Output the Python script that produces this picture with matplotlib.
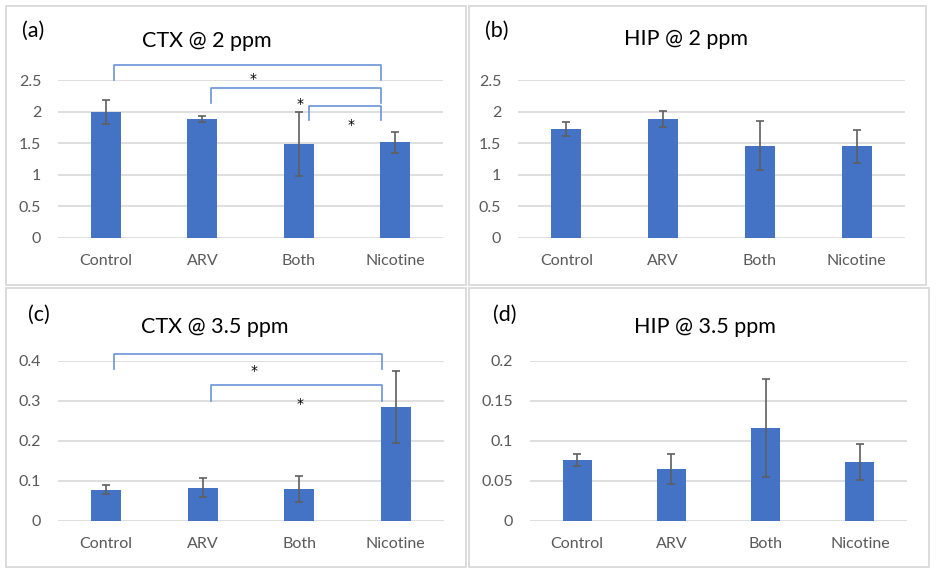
import matplotlib.pyplot as plt
from matplotlib.patches import Rectangle

plt.rcParams['font.family'] = ['Lato', 'DejaVu Sans']

categories = ["Control", "ARV", "Both", "Nicotine"]

ctx_2_mean = [2.00, 1.88, 1.49, 1.51]
ctx_2_err = [0.19, 0.045, 0.51, 0.17]
hip_2_mean = [1.72, 1.88, 1.46, 1.45]
hip_2_err = [0.11, 0.13, 0.39, 0.26]
ctx_35_mean = [0.078, 0.083, 0.080, 0.285]
ctx_35_err = [0.012, 0.024, 0.032, 0.090]
hip_35_mean = [0.076, 0.065, 0.116, 0.073]
hip_35_err = [0.007, 0.019, 0.061, 0.0225]

# significance brackets: (x_left, x_right, top, leg_bottom, star_x, star_y)
ctx_2_sig = [
    (0.08, 2.86, 2.73, 2.50, 1.53, 2.60),
    (1.09, 2.86, 2.37, 2.14, 2.01, 2.21),
    (2.11, 2.86, 2.09, 1.87, 2.54, 1.87),
]
ctx_35_sig = [
    (0.08, 2.86, 0.417, 0.379, 1.53, 0.389),
    (1.09, 2.86, 0.339, 0.300, 2.01, 0.306),
]

W, H = 936, 574
bar_color = "#4472C4"
grid_color = "#D9D9D9"
text_gray = "#595959"
bracket_color = "#6A93DA"

fig = plt.figure(figsize=(W / 100, H / 100), dpi=100)


def px_axes(left, top, right, bottom):
    return fig.add_axes([left / W, 1 - bottom / H, (right - left) / W, (bottom - top) / H])


def draw_panel(box, axbox, means, errs, ymax, yticks, yticklabels, label, label_xy, title, title_xy, sig=None):
    # panel border
    x0, y0, x1, y1 = box
    fig.patches.append(Rectangle((x0 / W, 1 - y1 / H), (x1 - x0) / W, (y1 - y0) / H,
                                 transform=fig.transFigure, fill=False,
                                 edgecolor="#D6D6D6", linewidth=1.2))
    ax = px_axes(*axbox)
    xs = range(len(categories))
    ax.bar(xs, means, width=0.31, color=bar_color, zorder=3)
    ax.errorbar(xs, means, yerr=errs, fmt="none", ecolor="#5F5F5F",
                elinewidth=1.2, capsize=3, capthick=1.2, zorder=4)
    ax.set_xlim(-0.5, 3.5)
    ax.set_ylim(0, ymax)
    ax.set_yticks(yticks)
    ax.set_yticklabels(yticklabels)
    ax.set_xticks(list(xs))
    ax.set_xticklabels(categories)
    ax.tick_params(length=0, colors=text_gray, labelsize=11.5)
    ax.tick_params(axis="y", pad=12)
    ax.tick_params(axis="x", pad=12)
    ax.grid(axis="y", color=grid_color, linewidth=1.2, zorder=0)
    for s in ax.spines.values():
        s.set_visible(False)
    ax.set_facecolor("none")

    fig.text(label_xy[0] / W, 1 - label_xy[1] / H, label, ha="center", va="center",
             fontsize=15.5, color="black")
    fig.text(title_xy[0] / W, 1 - title_xy[1] / H, title, ha="center", va="center",
             fontsize=15.5, color="black")

    if sig:
        for xl, xr, top, low, sx, sy in sig:
            ax.plot([xl, xl, xr, xr], [low, top, top, low], color=bracket_color,
                    linewidth=1.2, clip_on=False, zorder=5)
            ax.annotate("*", (sx, sy), xytext=(0, -4), textcoords="offset points",
                        ha="center", va="center", fontsize=10, family="DejaVu Sans",
                        color="black", annotation_clip=False)
    return ax


draw_panel((6, 6, 466, 285), (58, 80, 443, 237.7), ctx_2_mean, ctx_2_err, 2.5,
           [0, 0.5, 1, 1.5, 2, 2.5], ["0", "0.5", "1", "1.5", "2", "2.5"],
           "(a)", (33, 31), "CTX @ 2 ppm", (207, 41), ctx_2_sig)
draw_panel((469, 6, 926, 285), (518, 80, 905, 237.7), hip_2_mean, hip_2_err, 2.5,
           [0, 0.5, 1, 1.5, 2, 2.5], ["0", "0.5", "1", "1.5", "2", "2.5"],
           "(b)", (497, 31), "HIP @ 2 ppm", (686, 39))
draw_panel((6, 288, 466, 567), (58, 360.7, 444, 520.7), ctx_35_mean, ctx_35_err, 0.4,
           [0, 0.1, 0.2, 0.3, 0.4], ["0", "0.1", "0.2", "0.3", "0.4"],
           "(c)", (39, 315), "CTX @ 3.5 ppm", (215, 327), ctx_35_sig)
draw_panel((469, 288, 929, 567), (530, 360.7, 907, 520.7), hip_35_mean, hip_35_err, 0.2,
           [0, 0.05, 0.1, 0.15, 0.2], ["0", "0.05", "0.1", "0.15", "0.2"],
           "(d)", (505, 315), "HIP @ 3.5 ppm", (705, 327))

fig.savefig("out.png", dpi=100, facecolor="white")
